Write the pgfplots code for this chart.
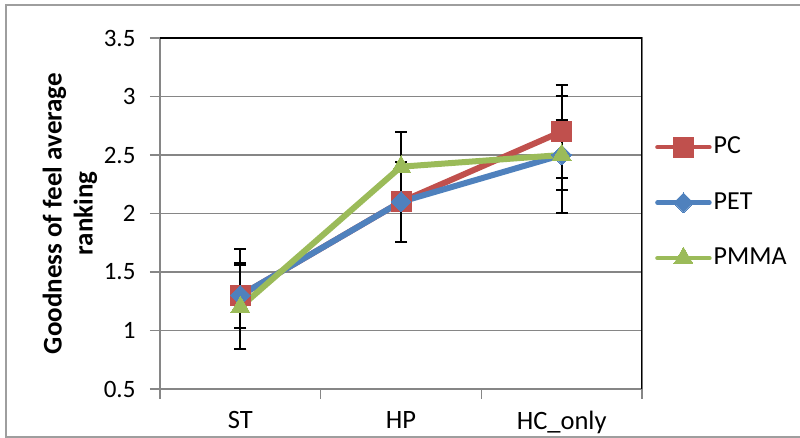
\documentclass[border=0pt]{standalone}
\usepackage{fontspec}
\setmainfont{Carlito}
\usepackage{pgfplots}
\pgfplotsset{compat=1.18}
\definecolor{pcred}{RGB}{192,80,77}
\definecolor{petblue}{RGB}{79,129,189}
\definecolor{pmmagreen}{RGB}{155,187,89}
\definecolor{gridgray}{RGB}{134,134,134}
\begin{document}
\fontsize{25}{30}\selectfont
\begin{tikzpicture}[x=1pt,y=1pt]
\useasboundingbox (0,0) rectangle (800,438);
\draw[gridgray!80, line width=1.5pt] (6,1) rectangle (812,433);
\begin{axis}[
  at={(160pt,49pt)}, anchor=south west, scale only axis,
  width=482pt, height=351pt,
  font=\fontsize{25}{30}\selectfont,
  xmin=0, xmax=3, ymin=0.5, ymax=3.5,
  ytick={0.5,1,1.5,2,2.5,3,3.5},
  xtick={0,1,2,3}, xticklabels={ST,HP,HC\_only}, x tick label as interval,
  /pgf/number format/assume math mode=true,
  ymajorgrids, grid style={gridgray, line width=1.5pt},
  axis line style={gridgray, line width=1.5pt},
  tick align=outside, tick pos=left, major tick length=10pt,
  tick style={gridgray, line width=1.5pt},
  yticklabel style={xshift=-6pt},
  xticklabel style={yshift=-4pt, font=\fontsize{26.5}{30}\selectfont},
  ylabel={Goodness of feel average\\ranking},
  ylabel style={align=center, font=\fontsize{27}{31}\selectfont\bfseries,
    at={(axis description cs:-0.187,0.5)}, anchor=center},
  legend style={draw=none, fill=none, at={(rel axis cs:1,0.531)}, anchor=west,
    xshift=13pt, inner sep=0pt, row sep=31pt, cells={anchor=west},
    font=\fontsize{26}{30}\selectfont},
  legend image code/.code={\draw[#1, line width=4.5pt, line cap=round, mark repeat=2, mark phase=2] plot coordinates {(0pt,0pt) (26pt,0pt) (52pt,0pt)};},
  error bars/y dir=both, error bars/y explicit,
  error bars/error bar style={black, line width=2pt},
  error bars/error mark options={rotate=90, black, mark size=6pt, line width=2pt},
]
\addplot[pcred, line width=6pt, mark=square*, mark size=10pt,
  mark options={solid, fill=pcred, draw=pcred, line width=0pt}]
  coordinates {(0.5,1.3) += (0,0.4) -= (0,0.46)
               (1.5,2.1) +- (0,0.34)
               (2.5,2.7) +- (0,0.4)};
\addlegendentry{PC}
\addplot[petblue, line width=6pt, mark=square*, mark size=7pt,
  mark options={solid, fill=petblue, draw=petblue, rotate=45, line width=0pt}]
  coordinates {(0.5,1.3) +- (0,0.28)
               (1.5,2.1) +- (0,0.34)
               (2.5,2.5) +- (0,0.3)};
\addlegendentry{PET}
\addplot[pmmagreen, line width=6pt, mark=triangle*, mark size=11pt,
  mark options={solid, fill=pmmagreen, draw=pmmagreen, line width=0pt}]
  coordinates {(0.5,1.2) +- (0,0.36)
               (1.5,2.4) +- (0,0.3)
               (2.5,2.5) +- (0,0.5)};
\addlegendentry{PMMA}
\draw[black, line width=1.5pt] (rel axis cs:0,1) -- (rel axis cs:1,1) -- (rel axis cs:1,0);
\end{axis}
\end{tikzpicture}
\end{document}
